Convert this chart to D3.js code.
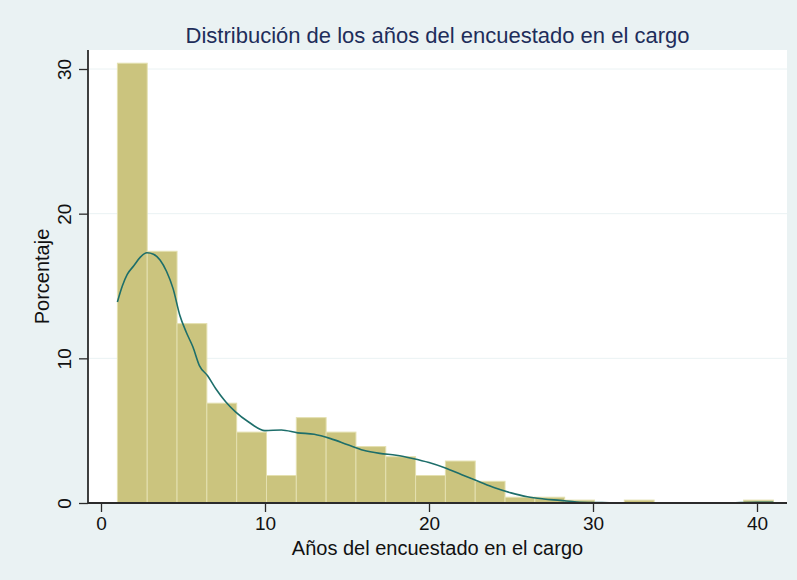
<!DOCTYPE html>
<html>
<head>
<meta charset="utf-8">
<script src="https://cdn.jsdelivr.net/npm/d3@7"></script>
<style>
  body { margin: 0; background: #eaf2f3; }
  svg { display: block; font-family: "Liberation Sans", Arial, sans-serif; }
</style>
</head>
<body>
<svg id="chart"></svg>
<script>
// histogram: 22 bins from 1 to 41, percent per bin
var binStart = 1, binEnd = 41, binCount = 22;
var percents = [30.4, 17.4, 12.4, 6.9, 4.9, 1.9, 5.9, 4.9, 3.9, 3.2, 1.9, 2.9,
                1.5, 0.4, 0.4, 0.2, 0, 0.2, 0, 0, 0, 0.2];

// kernel density curve (scaled to percent)
var densX = [1.0, 1.3, 1.6, 2.0, 2.4, 2.8, 3.2, 3.6, 4.0, 4.4, 4.8, 5.2, 5.6, 6.0,
             6.5, 7.0, 7.6, 8.2, 9.0, 10.0, 11.0, 12.0, 13.0, 14.0, 15.0, 16.0,
             17.0, 18.0, 19.0, 20.0, 21.0, 22.0, 23.0, 24.0, 25.0, 26.0, 27.0,
             28.0, 29.0, 30.0, 31.0, 33.0, 35.0, 38.0, 40.0, 41.0];
var densY = [13.9, 15.0, 15.8, 16.4, 17.0, 17.3, 17.2, 16.8, 16.0, 14.8, 13.0, 11.8,
             10.8, 9.5, 8.8, 7.9, 7.0, 6.3, 5.6, 5.0, 5.05, 4.85, 4.75, 4.45, 4.05,
             3.65, 3.43, 3.3, 3.08, 2.8, 2.42, 1.95, 1.5, 1.05, 0.7, 0.43, 0.28,
             0.18, 0.07, 0.03, 0.02, 0.01, 0.0, 0.0, 0.05, 0.05];

var xTicks = [0, 10, 20, 30, 40];
var yTicks = [0, 10, 20, 30];

var settings = { width: 797, height: 580 };
var plot = { left: 88, right: 787, top: 50, bottom: 503 };

var svg = d3.select("#chart")
    .attr("width", settings.width)
    .attr("height", settings.height);

svg.append("rect")
    .attr("width", settings.width).attr("height", settings.height)
    .attr("fill", "#eaf2f3");

svg.append("rect")
    .attr("x", plot.left).attr("y", plot.top)
    .attr("width", plot.right - plot.left).attr("height", plot.bottom - plot.top)
    .attr("fill", "#ffffff");

var x = d3.scaleLinear().domain([0, 40]).range([101, 757]);
var y = d3.scaleLinear().domain([0, 30]).range([503, 69]);

// gridlines
svg.append("g")
    .selectAll("line")
    .data(yTicks.filter(function (d) { return d > 0; }))
    .enter()
    .append("line")
    .attr("x1", plot.left).attr("x2", plot.right)
    .attr("y1", function (d) { return y(d); })
    .attr("y2", function (d) { return y(d); })
    .attr("stroke", "#eaf2f3")
    .attr("stroke-width", 1);

// bars
var binWidth = (binEnd - binStart) / binCount;
var bins = percents.map(function (p, i) {
    return { x0: binStart + i * binWidth, x1: binStart + (i + 1) * binWidth, v: p };
});

svg.append("g")
    .selectAll("rect")
    .data(bins.filter(function (d) { return d.v > 0; }))
    .enter()
    .append("rect")
    .attr("x", function (d) { return x(d.x0); })
    .attr("y", function (d) { return y(d.v); })
    .attr("width", function (d) { return x(d.x1) - x(d.x0); })
    .attr("height", function (d) { return y(0) - y(d.v); })
    .attr("fill", "#cbc47e")
    .attr("stroke", "#e4e0b0")
    .attr("stroke-width", 1);

// density line
var line = d3.line()
    .x(function (d) { return x(d[0]); })
    .y(function (d) { return y(d[1]); })
    .curve(d3.curveMonotoneX);

svg.append("path")
    .datum(d3.zip(densX, densY))
    .attr("d", line)
    .attr("fill", "none")
    .attr("stroke", "#1d6e6a")
    .attr("stroke-width", 1.6);

// axes
var xAxis = svg.append("g")
    .attr("transform", "translate(0," + plot.bottom + ")")
    .call(d3.axisBottom(x).tickValues(xTicks).tickSize(9).tickPadding(5));
xAxis.select(".domain").attr("d", "M" + plot.left + ",0H" + plot.right)
    .attr("stroke", "#2b2b2b").attr("stroke-width", 1.8);
xAxis.selectAll(".tick line").attr("stroke", "#2b2b2b").attr("stroke-width", 1.3);
xAxis.selectAll(".tick text")
    .attr("font-family", "Liberation Sans, Arial, sans-serif")
    .attr("font-size", 19).attr("fill", "#111");

var yAxis = svg.append("g")
    .attr("transform", "translate(" + plot.left + ",0)")
    .call(d3.axisLeft(y).tickValues(yTicks).tickSize(9).tickPadding(5));
yAxis.select(".domain").attr("d", "M0," + plot.top + "V" + plot.bottom)
    .attr("stroke", "#2b2b2b").attr("stroke-width", 1.8);
yAxis.selectAll(".tick line").attr("stroke", "#2b2b2b").attr("stroke-width", 1.3);
yAxis.selectAll(".tick text")
    .attr("font-family", "Liberation Sans, Arial, sans-serif")
    .attr("font-size", 19).attr("fill", "#111")
    .attr("x", null).attr("dy", null)
    .attr("text-anchor", "middle")
    .attr("transform", "translate(-17,0) rotate(-90)");

// titles
svg.append("text")
    .attr("x", (plot.left + plot.right) / 2).attr("y", 43)
    .attr("text-anchor", "middle")
    .attr("font-size", 22).attr("fill", "#1e2d5a")
    .text("Distribución de los años del encuestado en el cargo");

svg.append("text")
    .attr("x", (plot.left + plot.right) / 2).attr("y", 555)
    .attr("text-anchor", "middle")
    .attr("font-size", 20).attr("fill", "#111")
    .text("Años del encuestado en el cargo");

svg.append("text")
    .attr("transform", "translate(49," + (plot.top + plot.bottom) / 2 + ") rotate(-90)")
    .attr("text-anchor", "middle")
    .attr("font-size", 20).attr("fill", "#111")
    .text("Porcentaje");
</script>
</body>
</html>
